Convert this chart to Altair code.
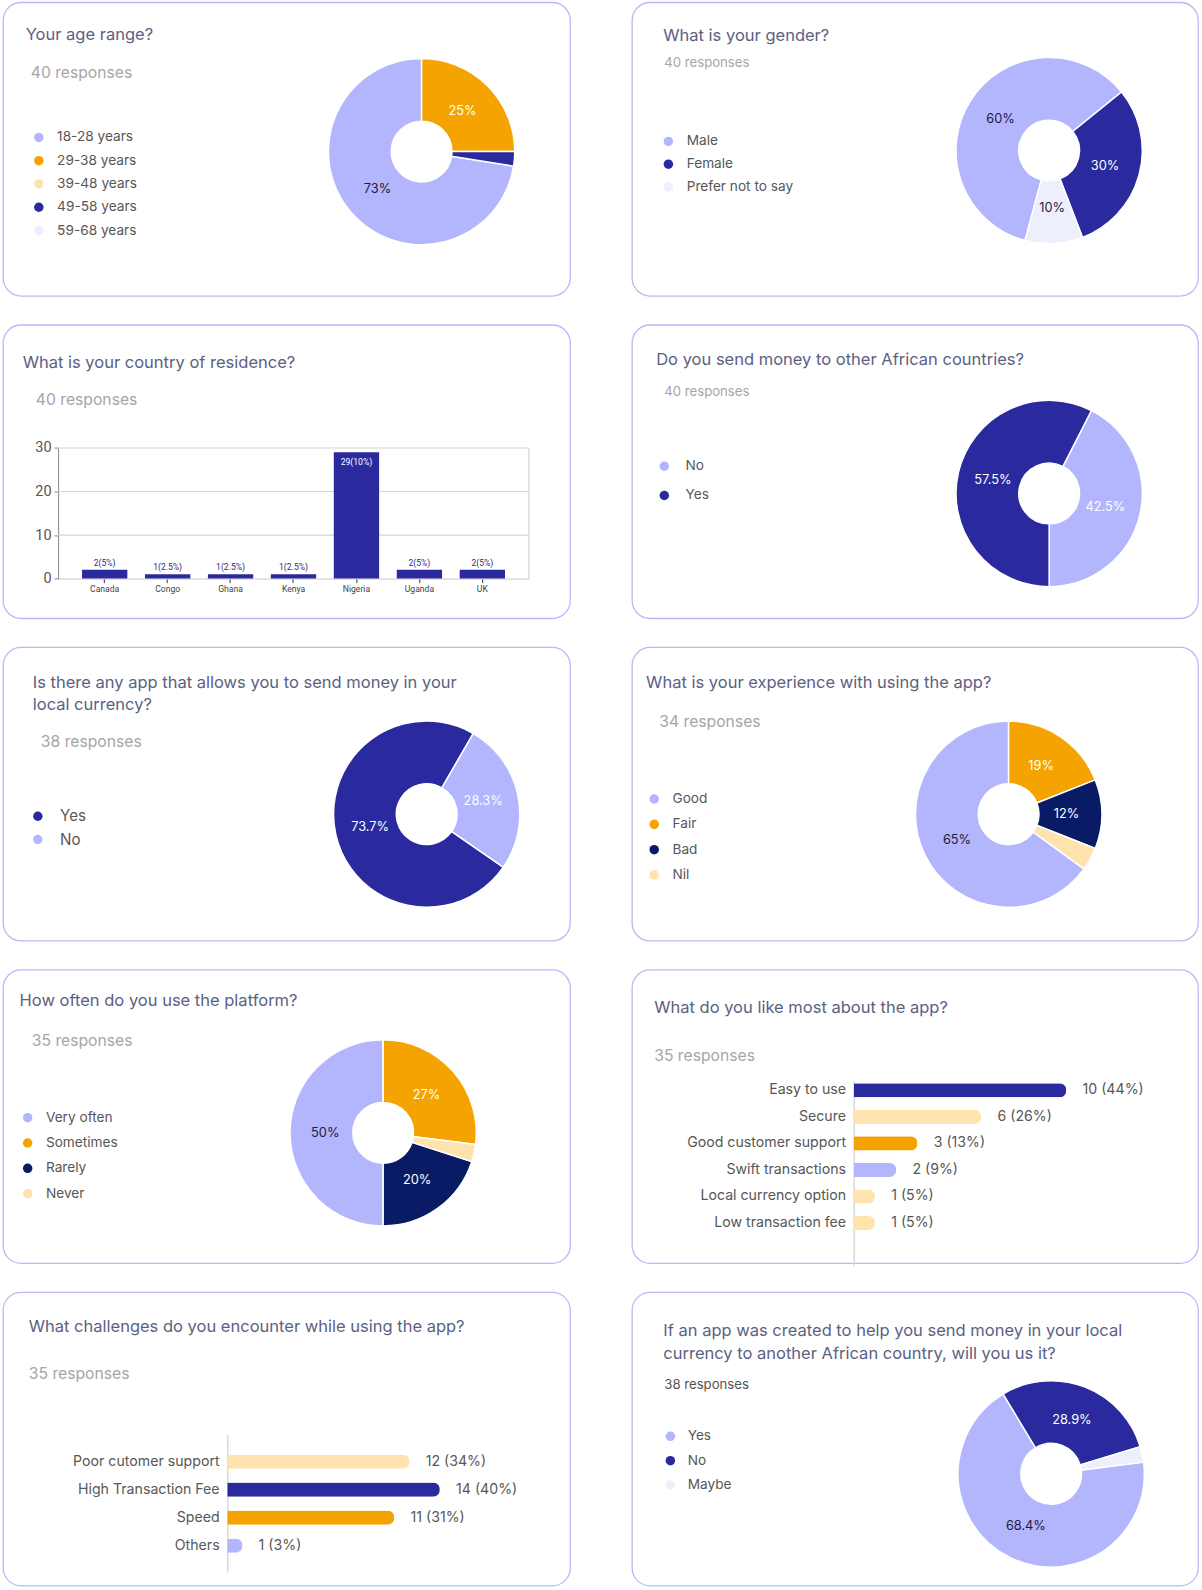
import math
import altair as alt
import pandas as pd

S = 1202 / 1185.0  # measurements were taken on a 1185-wide view

# ---------------- data ----------------
age_cats = ["18-28 years", "29-38 years", "39-48 years", "49-58 years", "59-68 years"]
age_vals = [72.5, 25.0, 0.0, 2.5, 0.0]
age_labels = ["73%", "25%", "", "", ""]
age_ink = ["dark", "white", "dark", "white", "dark"]
age_order = [3, 1, 4, 2, 5]

gender_cats = ["Male", "Female", "Prefer not to say"]
gender_vals = [60, 30, 10]
gender_labels = ["60%", "30%", "10%"]
gender_ink = ["dark", "white", "dark"]
gender_order = [3, 1, 2]

country_names = ["Canada", "Congo", "Ghana", "Kenya", "Nigeria", "Uganda", "UK"]
country_counts = [2, 1, 1, 1, 29, 2, 2]
country_labels = ["2(5%)", "1(2.5%)", "1(2.5%)", "1(2.5%)", "29(10%)", "2(5%)", "2(5%)"]
country_ticks = [0, 10, 20, 30]
country_grid = [10, 20, 30]

send_cats = ["No", "Yes"]
send_vals = [42.5, 57.5]
send_labels = ["42.5%", "57.5%"]
send_ink = ["white", "white"]
send_order = [2, 1]

local_cats = ["Yes", "No"]
local_vals = [73.7, 26.3]
local_labels = ["73.7%", "28.3%"]
local_ink = ["white", "white"]
local_order = [2, 1]

exp_cats = ["Good", "Fair", "Bad", "Nil"]
exp_vals = [65, 19, 12, 4]
exp_labels = ["65%", "19%", "12%", ""]
exp_ink = ["dark", "white", "white", "dark"]
exp_order = [4, 1, 2, 3]

often_cats = ["Very often", "Sometimes", "Rarely", "Never"]
often_vals = [50, 27, 20, 3]
often_labels = ["50%", "27%", "20%", ""]
often_ink = ["dark", "white", "white", "dark"]
often_order = [4, 1, 3, 2]

like_cats = ["Easy to use", "Secure", "Good customer support", "Swift transactions",
             "Local currency option", "Low transaction fee"]
like_counts = [10, 6, 3, 2, 1, 1]
like_labels = ["10 (44%)", "6 (26%)", "3 (13%)", "2 (9%)", "1 (5%)", "1 (5%)"]

chal_cats = ["Poor cutomer support", "High Transaction Fee", "Speed", "Others"]
chal_counts = [12, 14, 11, 1]
chal_labels = ["12 (34%)", "14 (40%)", "11 (31%)", "1 (3%)"]

use_cats = ["Yes", "No", "Maybe"]
use_vals = [68.4, 28.9, 2.7]
use_labels = ["68.4%", "28.9%", ""]
use_ink = ["dark", "white", "dark"]
use_order = [3, 1, 2]

# ---------------- style ----------------
FONT = "Inter"
TITLE_C = "#5c6182"
RESP_C = "#a6a6a6"
LEG_C = "#575757"
DARK_T = "#1c1c40"
LAV = "#b3b5fd"
ORA = "#f5a300"
PEA = "#ffe3ae"
IND = "#2a2a9e"
PAL = "#eeeffd"
NAV = "#0a1b66"
BORDER = "#b8baf7"

age_colors = [LAV, ORA, PEA, IND, PAL]
gender_colors = [LAV, IND, PAL]
send_colors = [LAV, IND]
local_colors = [IND, LAV]
exp_colors = [LAV, ORA, NAV, PEA]
often_colors = [LAV, ORA, NAV, PEA]
like_colors = [IND, PEA, ORA, LAV, PEA, PEA]
chal_colors = [PEA, IND, ORA, LAV]
use_colors = [LAV, IND, PAL]

TS = 16.3  # title size (measured units)
CW = [568, 567]
CH = 294
HSP, VSP = 60, 27
PAD_L, PAD_T = 2, 0
SW = 1.3  # border stroke width (adds to layout bounds)
R_OUT, R_IN, R_LAB = 93.3, 30.4, 58


def origin(col, row):
    ox = PAD_L + SW / 2 + (0 if col == 0 else CW[0] + HSP + SW)
    oy = PAD_T + SW / 2 + row * (CH + VSP + SW)
    return ox, oy


def rel(col, row):
    ox, oy = origin(col, row)
    return (lambda v: round(v * S - ox, 1)), (lambda v: round(v * S - oy, 1))


def dummy():
    return pd.DataFrame({"k": [0]})


def txt(s, x, y, size, color, font=FONT):
    return alt.Chart(dummy()).mark_text(
        text=s, font=font, fontSize=size, color=color, align="left", baseline="middle"
    ).encode(x=alt.value(x), y=alt.value(y))


def head_layers(fx, fy, titles, resp):
    out = []
    for s, x, y in titles:
        out.append(txt(s, fx(x), fy(y), TS * S, TITLE_C))
    s, x, y, size, c = resp
    out.append(txt(s, fx(x), fy(y), size * S, c))
    return out


def pie_card(col, row, titles, resp, cats, vals, labs, ink, cols, order, start_deg, center, leg):
    fx, fy = rel(col, row)
    layers = head_layers(fx, fy, titles, resp)
    df = pd.DataFrame({"cat": cats, "v": vals, "lab": labs,
                       "dark": [i == "dark" for i in ink], "o": order})
    a0 = math.radians(start_deg)
    th = alt.Theta("v:Q", stack=True, scale=alt.Scale(range=[a0, a0 + 2 * math.pi]))
    colr = alt.Color("cat:N", scale=alt.Scale(domain=cats, range=cols), legend=None)
    cx, cy = fx(center[0]), fy(center[1])
    layers.append(
        alt.Chart(df).transform_filter("datum.v > 0").mark_arc(
            outerRadius=R_OUT, innerRadius=R_IN, stroke="white", strokeWidth=1.5
        ).encode(theta=th, color=colr, order=alt.Order("o:Q"),
                 x=alt.value(cx), y=alt.value(cy))
    )
    layers.append(
        alt.Chart(df).mark_text(radius=R_LAB, font=FONT, fontSize=12.8, baseline="middle").encode(
            theta=th, order=alt.Order("o:Q"), text="lab:N",
            color=alt.condition("datum.dark", alt.value(DARK_T), alt.value("white")),
            x=alt.value(cx), y=alt.value(cy))
    )
    lx, ltx, ly0, ly1, lsize = leg
    ly = alt.Y("cat:N", scale=alt.Scale(domain=cats, range=[fy(ly0), fy(ly1)], padding=0), axis=None)
    layers.append(
        alt.Chart(df).mark_circle(size=90, opacity=1).encode(x=alt.value(fx(lx)), y=ly, color=colr)
    )
    layers.append(
        alt.Chart(df).mark_text(align="left", baseline="middle", font=FONT,
                                fontSize=lsize * S, color=LEG_C).encode(
            x=alt.value(fx(ltx)), y=ly, text="cat:N")
    )
    return alt.layer(*layers).properties(width=CW[col], height=CH)


def country_card(col, row):
    fx, fy = rel(col, row)
    layers = head_layers(fx, fy, [("What is your country of residence?", 22, 356)],
                         ("40 responses", 35, 393, 15.5, RESP_C))
    x0, x1, yb, yt = fx(57), fx(522), fy(569), fy(440)
    df = pd.DataFrame({"c": country_names, "n": country_counts, "lab": country_labels})
    X = alt.X("c:N", sort=None,
              scale=alt.Scale(domain=country_names, range=[x0, x1], paddingInner=0.28, paddingOuter=0.38),
              axis=alt.Axis(orient="bottom", offset=yb - CH, title=None, labelFont="Roboto",
                            labelFontSize=8.6, labelColor="#444", labelAngle=0, tickColor="#333",
                            tickSize=4, domainColor="#c8c8c8", labelPadding=2))
    Y = alt.Y("n:Q",
              scale=alt.Scale(domain=[0, 30], range=[yb, yt], nice=False, zero=True),
              axis=alt.Axis(orient="left", offset=-x0, values=country_ticks, title=None, grid=False,
                            labelFont="Roboto", labelFontSize=14.5, labelColor="#555",
                            tickSize=4, tickColor="#888", domainColor="#888", labelPadding=3))
    gdf = pd.DataFrame({"n": country_grid})
    layers.append(alt.Chart(gdf).mark_rule(color="#d4d4d4", strokeWidth=1.2).encode(
        y=Y, x=alt.value(x0), x2=alt.value(x1)))
    layers.append(alt.Chart(dummy()).mark_rule(color="#d4d4d4", strokeWidth=1.2).encode(
        x=alt.value(x1), y=alt.value(yt), y2=alt.value(yb)))
    layers.append(alt.Chart(df).mark_bar(color=IND).encode(x=X, y=Y))
    layers.append(alt.Chart(df).transform_filter("datum.n < 10").mark_text(
        dy=-7, font="Roboto", fontSize=8.6, color="#2a2a7a").encode(x=X, y=Y, text="lab:N"))
    layers.append(alt.Chart(df).transform_filter("datum.n >= 10").mark_text(
        baseline="top", dy=6, font="Roboto", fontSize=8.6, color="white").encode(x=X, y=Y, text="lab:N"))
    return alt.layer(*layers).properties(width=CW[col], height=CH)


def hbar_card(col, row, titles, resp, cats, counts, labs, cols, axis_x, vmax, xmax_px,
              y0, y1, p_in, p_out, align, lab_size):
    fx, fy = rel(col, row)
    layers = head_layers(fx, fy, titles, resp)
    df = pd.DataFrame({"cat": cats, "n": counts, "lab": labs})
    X = alt.X("n:Q", scale=alt.Scale(domain=[0, vmax], range=[fx(axis_x), fx(xmax_px)], nice=False, zero=True),
              axis=None)
    Y = alt.Y("cat:N", sort=None,
              scale=alt.Scale(domain=cats, range=[fy(y0), fy(y1)], paddingInner=p_in,
                              paddingOuter=p_out, align=align),
              axis=alt.Axis(orient="left", offset=-fx(axis_x), title=None, ticks=False,
                            domainColor="#d9d9d9", domainWidth=1.5, labelColor=LEG_C, labelFont=FONT,
                            labelFontSize=lab_size * S, labelPadding=8 * S, labelLimit=400))
    layers.append(alt.Chart(df).mark_bar(cornerRadiusEnd=7).encode(
        x=X, y=Y, color=alt.Color("cat:N", scale=alt.Scale(domain=cats, range=cols), legend=None)))
    layers.append(alt.Chart(df).mark_text(align="left", baseline="middle", dx=16 * S, font=FONT,
                                          fontSize=lab_size * S, color=LEG_C).encode(
        x=X, y=Y, text="lab:N"))
    return alt.layer(*layers).properties(width=CW[col], height=CH)


c1 = pie_card(0, 0, [("Your age range?", 25, 33)], ("40 responses", 30, 70, 15.5, RESP_C),
              age_cats, age_vals, age_labels, age_ink, age_colors, age_order, 0,
              (416, 148), (38, 56, 134, 226, 13.5))
c2 = pie_card(1, 0, [("What is your gender?", 654, 34)], ("40 responses", 655, 61, 13, RESP_C),
              gender_cats, gender_vals, gender_labels, gender_ink, gender_colors, gender_order, 51,
              (1035, 147), (659, 677, 138, 183, 13.5))
c3 = country_card(0, 1)
c4 = pie_card(1, 1, [("Do you send money to other African countries?", 647, 353)],
              ("40 responses", 655, 385, 13, RESP_C),
              send_cats, send_vals, send_labels, send_ink, send_colors, send_order, 180,
              (1035, 485), (655, 676, 458, 487, 13.5))
c5 = pie_card(0, 2, [("Is there any app that allows you to send money in your", 32, 671),
                     ("local currency?", 32, 693)],
              ("38 responses", 40, 730, 15.5, RESP_C),
              local_cats, local_vals, local_labels, local_ink, local_colors, local_order, 30,
              (421, 801), (37, 59, 803, 826, 15))
c6 = pie_card(1, 2, [("What is your experience with using the app?", 637, 671)],
              ("34 responses", 650, 710, 15.5, RESP_C),
              exp_cats, exp_vals, exp_labels, exp_ink, exp_colors, exp_order, 0,
              (995, 801), (645, 663, 786, 861, 13.5))
c7 = pie_card(0, 3, [("How often do you use the platform?", 19, 985)],
              ("35 responses", 31, 1024, 15.5, RESP_C),
              often_cats, often_vals, often_labels, often_ink, often_colors, often_order, 0,
              (378, 1115), (27, 45, 1100, 1175, 13.5))
c8 = hbar_card(1, 3, [("What do you like most about the app?", 645, 992)],
               ("35 responses", 645, 1039, 15.5, RESP_C),
               like_cats, like_counts, like_labels, like_colors, 842, 10, 1052,
               1063, 1246, 0.47, 0.727, 0.08, 14)
c9 = hbar_card(0, 4, [("What challenges do you encounter while using the app?", 28, 1306)],
               ("35 responses", 28, 1352, 15.5, RESP_C),
               chal_cats, chal_counts, chal_labels, chal_colors, 224, 14, 434,
               1412, 1548, 0.49, 0.709, 0.51, 14)
c10 = pie_card(1, 4, [("If an app was created to help you send money in your local", 654, 1310),
                      ("currency to another African country, will you us it?", 654, 1333)],
               ("38 responses", 655, 1363, 13, "#555555"),
               use_cats, use_vals, use_labels, use_ink, use_colors, use_order, 329,
               (1037, 1451), (661, 678, 1414, 1462, 13.5))

cards = [c1, c2, c3, c4, c5, c6, c7, c8, c9, c10]
rows = []
for r in range(5):
    rows.append(
        alt.hconcat(cards[2 * r], cards[2 * r + 1], spacing=HSP).resolve_scale(
            color="independent", x="independent", y="independent")
    )

chart = alt.vconcat(*rows, spacing=VSP).resolve_scale(
    color="independent", x="independent", y="independent"
).properties(
    padding={"left": PAD_L, "top": PAD_T, "right": 3, "bottom": 2},
    background="white",
).configure_view(
    stroke=BORDER, strokeWidth=SW, cornerRadius=18, fill="white"
)

chart.save("out.html", embed_options={"renderer": "svg", "actions": False})
